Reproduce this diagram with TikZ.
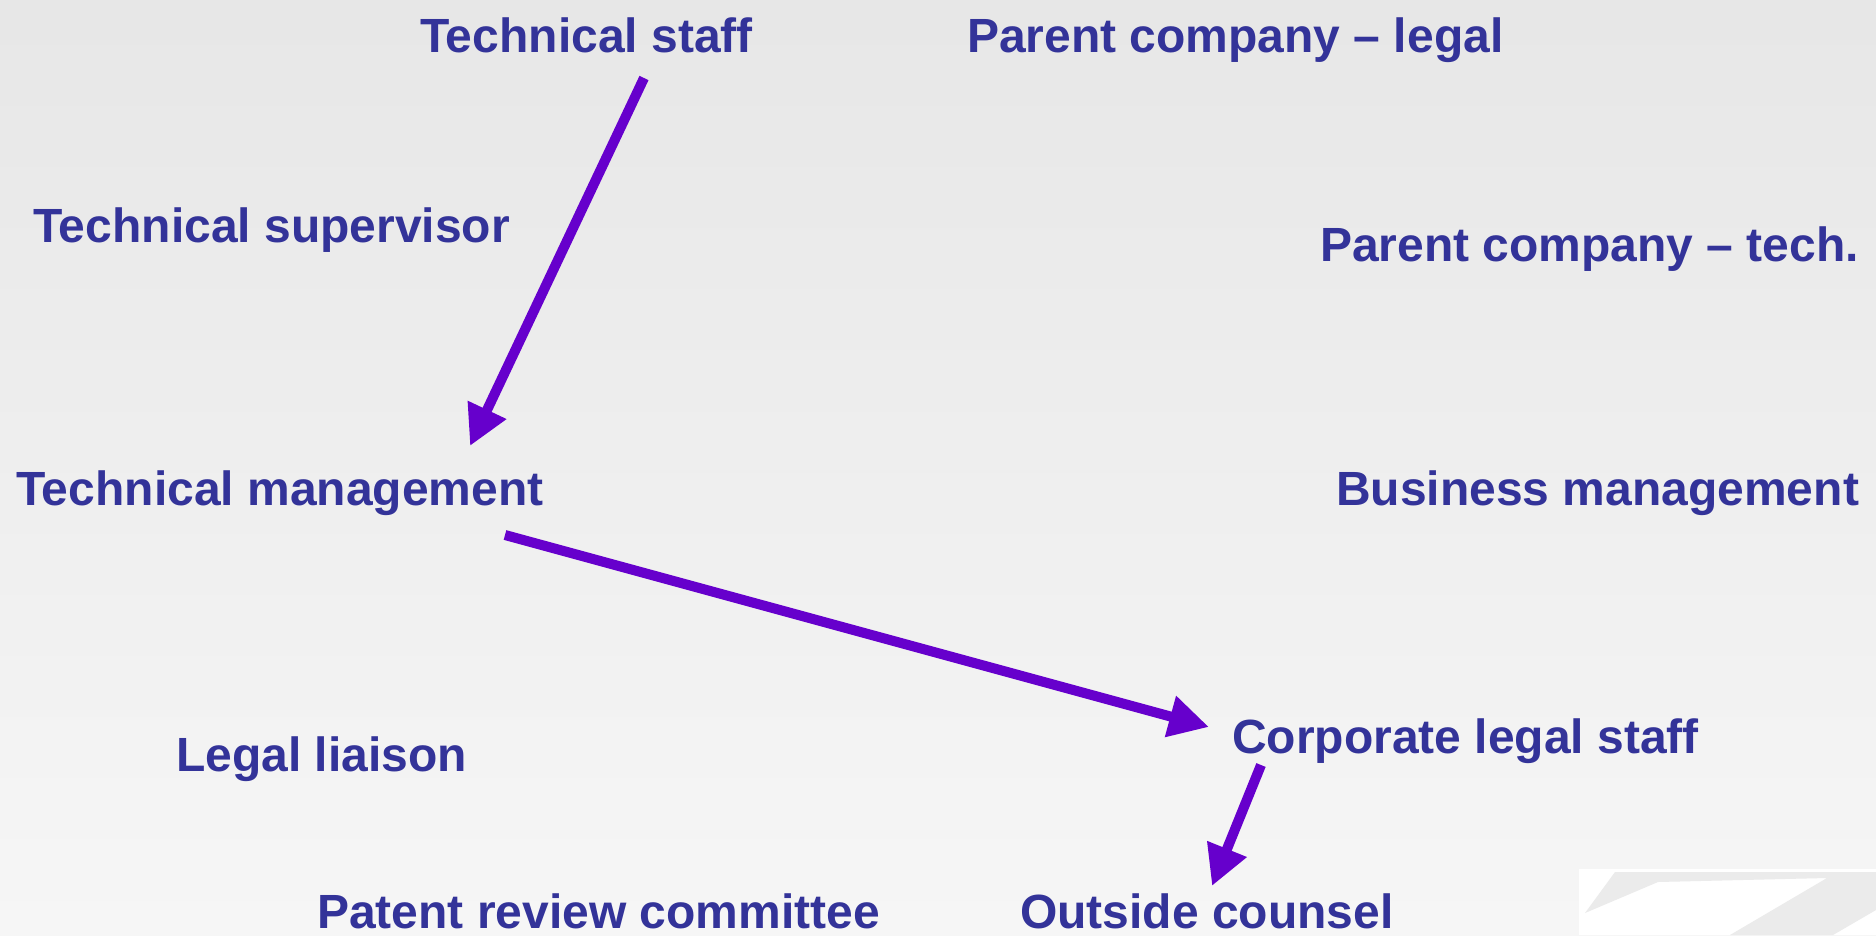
\documentclass[tikz,border=0pt]{standalone}
\usepackage{fontspec}
\setmainfont{Liberation Sans}
\usetikzlibrary{arrows.meta}
\definecolor{labelblue}{HTML}{333399}
\definecolor{flowviolet}{HTML}{6600CC}
\definecolor{logogray}{HTML}{EBEBEB}
\tikzset{
  role/.style={anchor=base west, inner sep=0pt, text=labelblue,
    font=\fontsize{48}{52}\selectfont\bfseries},
  flow/.style={draw=flowviolet, line width=10pt,
    -{Triangle[length=40pt,width=40pt]}},
}
\begin{document}
\begin{tikzpicture}[x=1pt,y=-1pt]
  % background with a soft vertical gradient
  \shade[top color=black!9.5, bottom color=black!3.5] (0,0) rectangle (1876,935);
  \useasboundingbox (0,0) rectangle (1876,935);

  % corner mark
  \fill[white] (1579,869) rectangle (1876,935);
  \fill[logogray] (1615,872) -- (1876,872) -- (1876,910) -- (1833,935)
    -- (1730,935) -- (1827,878) -- (1658,882) -- (1585,913) -- cycle;

  % roles
  \node[role] (ts)  at (420,52)  {Technical staff};
  \node[role] (pcl) at (967,52)  {Parent company -- legal};
  \node[role] (tsv) at (33,242)  {Technical supervisor};
  \node[role] (pct) at (1320,261) {Parent company -- tech.};
  \node[role] (tm)  at (16,505)  {Technical management};
  \node[role] (bm)  at (1336,505) {Business management};
  \node[role] (ll)  at (176,771) {Legal liaison};
  \node[role] (cls) at (1232,753) {Corporate legal staff};
  \node[role] (prc) at (317,928) {Patent review committee};
  \node[role] (oc)  at (1020,928) {Outside counsel};

  % connector ends
  \coordinate (tsOut)  at (644,78);
  \coordinate (tmIn)   at (470,446);
  \coordinate (tmOut)  at (505,535);
  \coordinate (clsIn)  at (1209,727);
  \coordinate (clsOut) at (1261,765);
  \coordinate (ocIn)   at (1212,886);

  % flow of an invention disclosure
  \draw[flow] (tsOut) -- (tmIn);
  \draw[flow] (tmOut) -- (clsIn);
  \draw[flow] (clsOut) -- (ocIn);
\end{tikzpicture}
\end{document}
